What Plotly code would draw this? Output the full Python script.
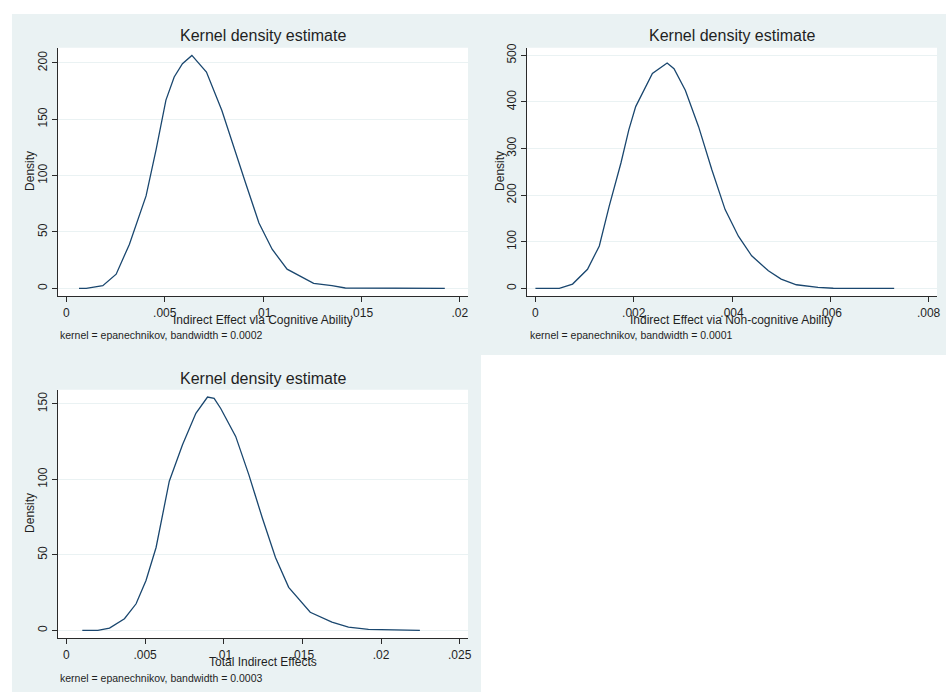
import plotly.graph_objects as go

W, H = 951, 692

# ---------------- data ----------------
cog_x = [0.00064, 0.00101, 0.00185, 0.00253, 0.0032, 0.00405, 0.00456, 0.00506, 0.00548, 0.0059,
         0.00638, 0.00712, 0.0079, 0.0086, 0.00911, 0.00979, 0.01046, 0.01122, 0.01181, 0.01257,
         0.0135, 0.01418, 0.01924]
cog_y = [0, 0, 2.4, 12.6, 39, 82, 123, 167, 187.6, 199.4,
         206.7, 192, 158, 120, 93.5, 58, 34.7, 17, 11.2, 4.4,
         2.4, 0.3, 0]

noncog_x = [0.0, 0.000486, 0.000756, 0.00106, 0.0013, 0.0015, 0.00174, 0.0019, 0.00204, 0.00238,
            0.00268, 0.00282, 0.00305, 0.00332, 0.00359, 0.00386, 0.00413, 0.0044, 0.00474, 0.005,
            0.00531, 0.00575, 0.00606, 0.0073]
noncog_y = [0, 0, 9.2, 41, 91, 176, 269, 340, 390, 461,
            483.6, 471.5, 425, 347, 254.6, 169, 112, 70, 37.7, 20,
            7.8, 2, 0.3, 0]

total_x = [0.00101, 0.002, 0.00274, 0.00369, 0.00443, 0.00506, 0.0057, 0.00654, 0.00738, 0.00823,
           0.00897, 0.00939, 0.00981, 0.01076, 0.0116, 0.01245, 0.01329, 0.01413, 0.0155, 0.01688,
           0.01793, 0.0192, 0.02247]
total_y = [0, 0, 1.5, 7.7, 17.6, 33, 54.9, 98.8, 123, 143.8,
           154.6, 153.7, 147, 128.5, 103, 74.6, 48.3, 28.5, 12, 5.5,
           2.2, 0.7, 0]

cog_xticks = [0, 0.005, 0.01, 0.015, 0.02]
cog_xlabels = ["0", ".005", ".01", ".015", ".02"]
cog_yticks = [0, 50, 100, 150, 200]

noncog_xticks = [0, 0.002, 0.004, 0.006, 0.008]
noncog_xlabels = ["0", ".002", ".004", ".006", ".008"]
noncog_yticks = [0, 100, 200, 300, 400, 500]

total_xticks = [0, 0.005, 0.01, 0.015, 0.02, 0.025]
total_xlabels = ["0", ".005", ".01", ".015", ".02", ".025"]
total_yticks = [0, 50, 100, 150]

titles = ["Kernel density estimate"] * 3
xtitles = ["Indirect Effect via Cognitive Ability",
           "Indirect Effect via Non-cognitive Ability",
           "Total Indirect Effects"]
notes = ["kernel = epanechnikov, bandwidth = 0.0002",
         "kernel = epanechnikov, bandwidth = 0.0001",
         "kernel = epanechnikov, bandwidth = 0.0003"]

# ---------------- style ----------------
BG = "#eaf2f3"
LINE = "#1a476f"
TXT = "#1f1f1f"
AX = "#2a2a2a"
FONT = "Liberation Sans, Arial, sans-serif"

def px(x):
    return x / W

def py(y):
    return 1 - y / H

# plot-area boxes in pixels (left, top, right, bottom)
boxes = [(58, 44, 470, 294), (529, 44, 941, 294), (58, 388, 470, 638)]
xranges = [(-0.00044, 0.02042), (-0.000176, 0.008172), (-0.00055, 0.02553)]
yranges = [(-7.06, 213.5), (-17.0, 516.3), (-5.27, 159.4)]

fig = go.Figure()

series = [(cog_x, cog_y), (noncog_x, noncog_y), (total_x, total_y)]
for i, (xs, ys) in enumerate(series):
    fig.add_trace(go.Scatter(x=xs, y=ys, mode="lines",
                             line=dict(color=LINE, width=1.3),
                             xaxis="x" if i == 0 else f"x{i+1}",
                             yaxis="y" if i == 0 else f"y{i+1}",
                             showlegend=False, hoverinfo="skip"))

xt = [(cog_xticks, cog_xlabels), (noncog_xticks, noncog_xlabels), (total_xticks, total_xlabels)]
yt = [cog_yticks, noncog_yticks, total_yticks]

layout = dict(width=W, height=H, margin=dict(l=0, r=0, t=0, b=0),
              paper_bgcolor="white", plot_bgcolor="rgba(0,0,0,0)",
              font=dict(family=FONT, color=TXT, size=12), showlegend=False)

for i, (l, t, r, b) in enumerate(boxes):
    xn = "xaxis" if i == 0 else f"xaxis{i+1}"
    yn = "yaxis" if i == 0 else f"yaxis{i+1}"
    ya = "y" if i == 0 else f"y{i+1}"
    xa = "x" if i == 0 else f"x{i+1}"
    layout[xn] = dict(domain=[px(l), px(r)], range=list(xranges[i]), anchor=ya,
                      showgrid=False, zeroline=False, showline=True, linecolor=AX, linewidth=1,
                      ticks="outside", ticklen=5, tickwidth=1, tickcolor=AX,
                      tickvals=xt[i][0], ticktext=xt[i][1],
                      tickfont=dict(size=12, color=TXT, family=FONT), fixedrange=True)
    layout[yn] = dict(domain=[py(b), py(t)], range=list(yranges[i]), anchor=xa,
                      showgrid=True, gridcolor=BG, gridwidth=1, zeroline=False,
                      showline=True, linecolor=AX, linewidth=1,
                      ticks="outside", ticklen=5, tickwidth=1, tickcolor=AX,
                      tickvals=yt[i], tickangle=-90,
                      tickfont=dict(size=12, color=TXT, family=FONT), fixedrange=True)

shapes = [
    dict(type="rect", xref="paper", yref="paper", x0=px(12), x1=px(483), y0=py(692), y1=py(10),
         fillcolor=BG, line=dict(width=0), layer="below"),
    dict(type="rect", xref="paper", yref="paper", x0=px(483), x1=px(950), y0=py(353), y1=py(10),
         fillcolor=BG, line=dict(width=0), layer="below"),
]
for (l, t, r, b) in boxes:
    shapes.append(dict(type="rect", xref="paper", yref="paper", x0=px(l), x1=px(r),
                       y0=py(b), y1=py(t), fillcolor="white", line=dict(width=0), layer="below"))
layout["shapes"] = shapes

title_pos = [(264, 32), (735, 32), (264, 377)]
xtitle_pos = [(264, 318), (735, 318), (264, 662)]
ylabel_pos = [(30, 168), (502, 168), (30, 512)]
note_pos = [(58, 333), (530, 333), (58, 678)]

ann = []
for i in range(3):
    ann.append(dict(text=titles[i], x=px(title_pos[i][0]), y=py(title_pos[i][1]),
                    xref="paper", yref="paper", xanchor="center", yanchor="middle",
                    showarrow=False, font=dict(size=16, color=TXT, family=FONT)))
    ann.append(dict(text=xtitles[i], x=px(xtitle_pos[i][0]), y=py(xtitle_pos[i][1]),
                    xref="paper", yref="paper", xanchor="center", yanchor="middle",
                    showarrow=False, font=dict(size=12, color=TXT, family=FONT)))
    ann.append(dict(text="Density", x=px(ylabel_pos[i][0]), y=py(ylabel_pos[i][1]),
                    xref="paper", yref="paper", xanchor="center", yanchor="middle",
                    textangle=-90, showarrow=False, font=dict(size=12, color=TXT, family=FONT)))
    ann.append(dict(text=notes[i], x=px(note_pos[i][0]), y=py(note_pos[i][1]),
                    xref="paper", yref="paper", xanchor="left", yanchor="middle",
                    showarrow=False, font=dict(size=10.5, color=TXT, family=FONT)))
layout["annotations"] = ann

fig.update_layout(**layout)
fig.write_html("out.html", config={"displayModeBar": False},
               post_script="document.body.style.margin='0';document.body.style.overflow='hidden';")
